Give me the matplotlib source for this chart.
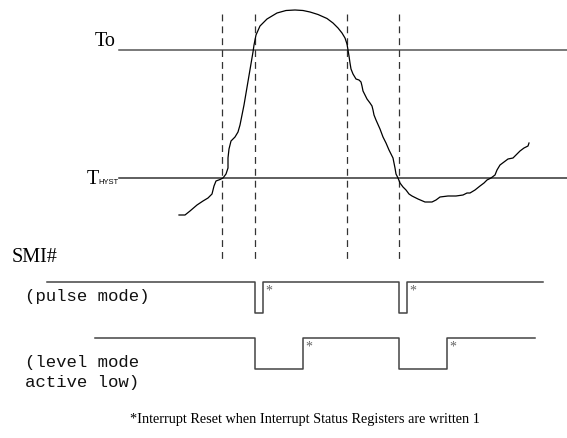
import matplotlib.pyplot as plt

# temperature trace (diagram units, y grows downward like the page)
curve_t = [179, 185, 190, 197, 203, 208, 212, 213, 214, 216, 220, 223, 226, 228, 228, 229,
           231, 235, 238, 240, 242, 244, 253, 254, 256, 260, 267, 277, 286, 295, 303, 310,
           318, 327, 333, 338, 342, 345, 347, 348, 349, 350, 351, 353, 356, 359, 361, 362,
           363, 365, 367, 370, 372, 373, 374, 376, 380, 383, 386, 389, 393, 394, 395, 396,
           398, 400, 403, 406, 409, 412, 418, 425, 432, 436, 440, 444, 448, 456, 463, 467,
           470, 475, 480, 484, 487, 491, 495, 497, 500, 504, 508, 513, 516, 520, 524, 528, 529]
curve_temp = [215, 215, 211, 205, 201, 198, 194, 190, 186, 181, 179.5, 178, 174, 168, 158, 149,
              141, 137, 132, 125, 115, 105, 52, 45, 35, 26, 19, 13, 10.5, 10, 10.5, 12,
              14.5, 18.5, 23, 28, 33, 38, 44, 50, 56, 63, 69, 74, 79, 80, 82, 86,
              91, 95, 99, 103, 106, 110, 115, 120, 129, 137, 143, 150, 158, 163, 168, 174,
              178, 183, 187, 190, 194, 196, 199, 202, 202, 200, 197, 196.5, 196, 196, 195, 193,
              193, 190, 186, 183, 180, 178, 175, 170, 165, 162, 159, 158, 155, 151, 148, 146, 143]

to_level = 50
hyst_level = 178
event_t = [222, 255, 347, 399]

pulse_t = [47, 255, 255, 263, 263, 399, 399, 407, 407, 543]
pulse_v = [282, 282, 313, 313, 282, 282, 313, 313, 282, 282]
level_t = [95, 255, 255, 303, 303, 399, 399, 447, 447, 535]
level_v = [338, 338, 369, 369, 338, 338, 369, 369, 338, 338]
pulse_marks = [263, 407]
level_marks = [303, 447]

fig = plt.figure(figsize=(5.67, 4.38), dpi=100)
ax = fig.add_axes([0, 0, 1, 1])
ax.set_xlim(0, 567)
ax.set_ylim(438, 0)
ax.axis('off')

serif = 'Liberation Serif'
mono = 'Liberation Mono'

# threshold lines
ax.plot([119, 567], [to_level, to_level], color='#555555', lw=1.1)
ax.plot([119, 567], [hyst_level, hyst_level], color='#333333', lw=1.1)

# event markers
for t in event_t:
    ax.plot([t, t], [14, 262], color='#333333', lw=0.9, linestyle=(0, (5.5, 4)))

ax.plot(curve_t, curve_temp, color='black', lw=0.9)

ax.text(95, 46, 'To', fontsize=14.5, family=serif, va='baseline', ha='left')
ax.text(87, 184, 'T', fontsize=14.5, family=serif, va='baseline', ha='left')
ax.text(98.5, 184, 'HYST', fontsize=5.5, family='Liberation Sans', va='baseline', ha='left')

# SMI# waveforms
ax.text(12, 262, 'SMI#', fontsize=14.5, family=serif, va='baseline', ha='left')
ax.plot(pulse_t, pulse_v, color='#444444', lw=1.1)
ax.plot(level_t, level_v, color='#444444', lw=1.1)
for t in pulse_marks:
    ax.text(t + 2, 285, '*', fontsize=10, color='#666666', va='top', ha='left', family=serif)
for t in level_marks:
    ax.text(t + 2, 341, '*', fontsize=10, color='#666666', va='top', ha='left', family=serif)

ax.text(25, 297, '(pulse mode)', fontsize=12.5, family=mono, va='center', ha='left', color='#111111')
ax.text(25, 362, '(level mode', fontsize=12.5, family=mono, va='center', ha='left', color='#111111')
ax.text(25, 383, 'active low)', fontsize=12.5, family=mono, va='center', ha='left', color='#111111')

ax.text(130, 420, '*Interrupt Reset when Interrupt Status Registers are written 1',
        fontsize=10.3, family=serif, va='center', ha='left')

fig.savefig('out.png', dpi=100)
